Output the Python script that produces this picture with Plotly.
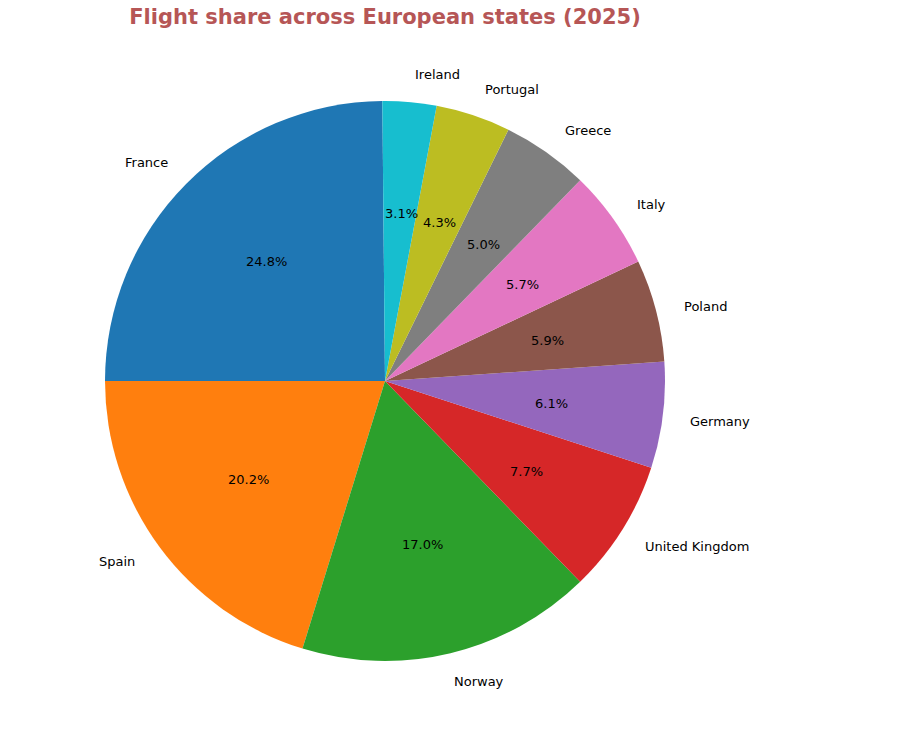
import numpy as np
import plotly.graph_objects as go

countries = ["France", "Spain", "Norway", "United Kingdom", "Germany",
             "Poland", "Italy", "Greece", "Portugal", "Ireland"]
shares = [24.8, 20.2, 17.0, 7.7, 6.1, 5.9, 5.7, 5.0, 4.3, 3.1]
colors = ["#1f77b4", "#ff7f0e", "#2ca02c", "#d62728", "#9467bd",
          "#8c564b", "#e377c2", "#7f7f7f", "#bcbd22", "#17becf"]

title_text = "Flight share across European states (2025)"

fig = go.Figure()
fig.add_trace(go.Pie(
    labels=countries,
    values=shares,
    marker=dict(colors=colors, line=dict(width=0)),
    sort=False,
    direction="counterclockwise",
    rotation=-90,  # first slice starts at 12 o'clock
    textinfo="none",
    hoverinfo="label+percent",
    showlegend=False,
    domain=dict(x=[0, 1], y=[0, 1]),
))

# label and percent positions like matplotlib (labeldistance 1.1, pctdistance 0.6)
vals = np.array(shares)
frac = vals / vals.sum()
start = 90 + 360 * np.concatenate([[0], np.cumsum(frac)[:-1]])
mid = np.radians(start + 180 * frac)

annotations = []
for name, pct, a in zip(countries, frac * 100, mid):
    cx, cy = np.cos(a), np.sin(a)
    annotations.append(dict(
        x=0.5 + 0.55 * cx, y=0.5 + 0.55 * cy, xref="paper", yref="paper",
        text=name, showarrow=False,
        xanchor="left" if cx > 0 else "right", yanchor="middle",
        xshift=-2 if cx > 0 else 2,  # cancel annotation padding
        font=dict(size=13, color="black"),
    ))
    annotations.append(dict(
        x=0.5 + 0.3 * cx, y=0.5 + 0.3 * cy, xref="paper", yref="paper",
        text=f"{pct:.1f}%", showarrow=False,
        xanchor="center", yanchor="middle",
        font=dict(size=13, color="black"),
    ))

fig.update_layout(
    width=922, height=737,
    margin=dict(l=105, r=257, t=101, b=76),
    paper_bgcolor="white",
    font=dict(family="DejaVu Sans", color="black"),
    title=dict(text=title_text, x=385 / 922, xanchor="center",
               y=1 - 17 / 737, yanchor="middle",
               font=dict(size=21, color="#b65656", family="DejaVu Sans", weight="bold")),
    annotations=annotations,
)

# drop the default page margin so the figure sits at the window corner
fig.write_html("out.html", config={"displayModeBar": False},
               post_script="document.body.style.margin='0px';")
